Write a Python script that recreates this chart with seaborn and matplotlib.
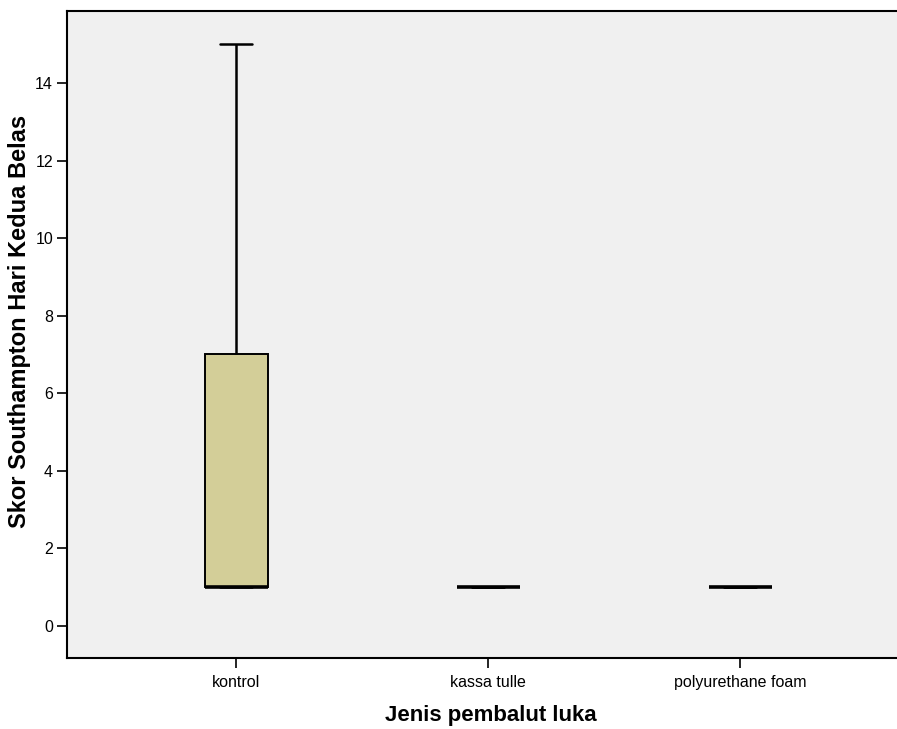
import matplotlib
matplotlib.use("Agg")
import matplotlib.pyplot as plt
import seaborn as sns
import pandas as pd

categories = ["kontrol", "kassa tulle", "polyurethane foam"]
kontrol = [1, 1, 1, 1, 1, 7, 7, 15]
kassa_tulle = [1, 1, 1, 1, 1, 1, 1, 1]
polyurethane_foam = [1, 1, 1, 1, 1, 1, 1, 1]
y_ticks = [0, 2, 4, 6, 8, 10, 12, 14]

df = pd.DataFrame({
    "group": [categories[0]] * len(kontrol) + [categories[1]] * len(kassa_tulle)
             + [categories[2]] * len(polyurethane_foam),
    "score": kontrol + kassa_tulle + polyurethane_foam,
})

sns.set_style("white")
plt.rcParams["font.family"] = ["Liberation Sans", "DejaVu Sans"]

fig = plt.figure(figsize=(8.97, 7.29), dpi=100)
ax = fig.add_axes([67 / 897, 71 / 729, 1 - 67 / 897, (658 - 11) / 729])
ax.set_facecolor("#F0F0F0")

sns.boxplot(data=df, x="group", y="score", order=categories, ax=ax,
            color="#D3CE98", width=0.25, linecolor="black", linewidth=1.5,
            whis=1.5, fliersize=0,
            boxprops=dict(linewidth=1.4, edgecolor="black"),
            whiskerprops=dict(linewidth=1.8),
            capprops=dict(linewidth=1.8),
            medianprops=dict(linewidth=2.6, color="black"),
            saturation=1)

ax.set_xlim(-0.671, 2.623)
ax.set_ylim(-0.825, 15.855)
ax.set_yticks(y_ticks)
ax.set_yticklabels([str(v) for v in y_ticks])

for s in ["top", "left", "bottom"]:
    ax.spines[s].set_visible(True)
    ax.spines[s].set_color("black")
    ax.spines[s].set_linewidth(1.5)
ax.spines["right"].set_visible(False)

ax.tick_params(axis="both", which="major", direction="out", length=7, width=1.2,
               color="black", labelsize=11.5, labelcolor="black", pad=3,
               bottom=True, left=True)
ax.tick_params(axis="x", pad=5)

ax.set_xlabel("Jenis pembalut luka", fontsize=16, fontweight="bold", color="black",
              va="top")
ax.xaxis.set_label_coords((491 - 67) / 830, (658 - 705) / 647)
ax.set_ylabel("Skor Southampton Hari Kedua Belas", fontsize=17, fontweight="bold",
              color="black")
ax.yaxis.set_label_coords((31 - 67) / 830, (658 - 321) / 647)

fig.savefig("out.png", dpi=100)
